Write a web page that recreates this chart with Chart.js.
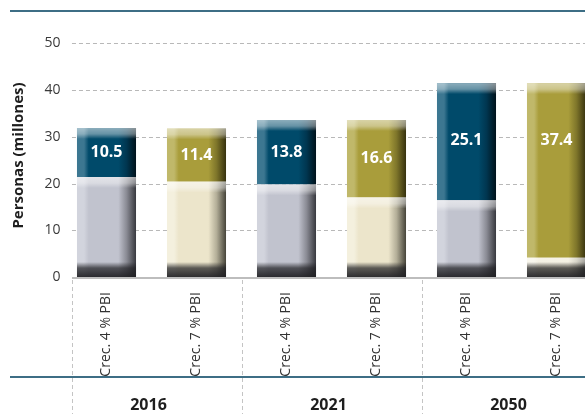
<!DOCTYPE html>
<html lang="es">
<head>
<meta charset="UTF-8">
<title>Personas (millones)</title>
<script src="https://cdn.jsdelivr.net/npm/chart.js"></script>
<style>
    body { margin: 0; background: #fff; }
    #wrap { width: 585px; height: 414px; overflow: hidden; }
    canvas { display: block; }
</style>
</head>
<body>
<div id="wrap"><canvas id="chart" width="610" height="414"></canvas></div>
<script>
    // data
    const years = ['2016', '2021', '2050'];
    const scenarios = ['Crec. 4 % PBI', 'Crec. 7 % PBI'];
    const baseValues = [21.4, 20.4, 19.8, 17.0, 16.4, 4.1];
    const addedValues = [10.5, 11.4, 13.8, 16.6, 25.1, 37.4];
    const yTicks = [0, 10, 20, 30, 40, 50];

    const labels = [];
    years.forEach(y => scenarios.forEach(s => labels.push(s)));

    const BAR_PCT = 0.656;
    const FONT = '"Open Sans", "Noto Sans", sans-serif';

    // one palette per scenario (4% / 7%)
    const topPal = [
        {light: '#3c7791', base: '#004a6a', mid: '#003650', dark: '#00121b'},
        {light: '#c0b86a', base: '#a99d3b', mid: '#7e752a', dark: '#36310e'}
    ];
    const basePal = [
        {light: '#d2d4dd', base: '#c1c3ce', mid: '#8a8b94', dark: '#38393f'},
        {light: '#f4f0de', base: '#ece5cb', mid: '#b3ae98', dark: '#46443a'}
    ];

    function barFill(pals) {
        return function(c) {
            const pal = pals[c.dataIndex % 2];
            const chart = c.chart;
            if (!chart.chartArea) return pal.base;
            const xs = chart.scales.x;
            const cx = xs.getPixelForValue(c.dataIndex);
            const w = xs.width / labels.length * BAR_PCT;
            const g = chart.ctx.createLinearGradient(cx - w / 2, 0, cx + w / 2, 0);
            g.addColorStop(0, pal.light);
            g.addColorStop(0.12, pal.light);
            g.addColorStop(0.2, pal.base);
            g.addColorStop(0.7, pal.base);
            g.addColorStop(0.84, pal.mid);
            g.addColorStop(1, pal.dark);
            return g;
        };
    }

    function gridLeft(chart) {
        const xs = chart.scales.x;
        const w = xs.width / labels.length * BAR_PCT;
        return xs.getPixelForValue(0) - w / 2 - 5;
    }

    const backdrop = {
        id: 'backdrop',
        beforeDatasetsDraw(chart) {
            const c = chart.ctx, ys = chart.scales.y;
            const x0 = gridLeft(chart);
            c.save();
            c.strokeStyle = '#b8b8b8';
            c.lineWidth = 1;
            c.setLineDash([4, 3]);
            yTicks.forEach(v => {
                if (v === 0) return;
                const y = Math.round(ys.getPixelForValue(v)) + 0.5;
                c.beginPath(); c.moveTo(x0, y); c.lineTo(chart.width, y); c.stroke();
            });
            c.setLineDash([]);
            c.strokeStyle = '#bdbdbd';
            c.lineWidth = 2;
            const y0 = ys.getPixelForValue(0) + 1;
            c.beginPath(); c.moveTo(x0, y0); c.lineTo(chart.width, y0); c.stroke();
            c.restore();
        },
        afterDatasetsDraw(chart) {
            const c = chart.ctx;
            c.save();
            chart.data.datasets.forEach((ds, di) => {
                chart.getDatasetMeta(di).data.forEach((el, i) => {
                    const p = el.getProps(['x', 'y', 'base', 'width'], true);
                    const l = p.x - p.width / 2;
                    const top = Math.min(p.y, p.base), bot = Math.max(p.y, p.base);
                    // top bevel highlight
                    let g = c.createLinearGradient(0, top, 0, top + 11);
                    g.addColorStop(0, 'rgba(255,255,255,0.55)');
                    g.addColorStop(0.55, 'rgba(255,255,255,0.4)');
                    g.addColorStop(1, 'rgba(255,255,255,0)');
                    c.fillStyle = g;
                    c.fillRect(l, top, p.width, 11);
                    if (di === 0) {
                        g = c.createLinearGradient(0, bot - 15, 0, bot);
                        g.addColorStop(0, 'rgba(30,30,34,0)');
                        g.addColorStop(0.4, 'rgba(30,30,34,0.7)');
                        g.addColorStop(1, 'rgba(30,30,34,0.92)');
                        c.fillStyle = g;
                        c.fillRect(l, bot - 15, p.width, 15);
                    } else {
                        // value label
                        const yLab = Math.min((top + bot) / 2, top + 57);
                        c.fillStyle = '#ffffff';
                        c.font = 'bold 16px ' + FONT;
                        c.textAlign = 'center';
                        c.textBaseline = 'middle';
                        c.fillText(addedValues[i].toFixed(1), p.x, yLab);
                    }
                });
            });
            c.restore();
        },
        afterDraw(chart) {
            const c = chart.ctx, xs = chart.scales.x, ys = chart.scales.y;
            const y0 = ys.getPixelForValue(0);
            const step = xs.getPixelForValue(1) - xs.getPixelForValue(0);
            c.save();
            // group separators
            const seps = [gridLeft(chart)];
            for (let g = 1; g < years.length; g++) {
                seps.push(xs.getPixelForValue(g * 2) - step / 2);
            }
            c.strokeStyle = '#c4c4c4';
            c.lineWidth = 1;
            c.setLineDash([4, 3]);
            seps.forEach(x => {
                x = Math.round(x) + 0.5;
                c.beginPath(); c.moveTo(x, y0 + 3); c.lineTo(x, chart.height); c.stroke();
            });
            c.setLineDash([]);
            // rules
            c.strokeStyle = '#3d6e85';
            c.lineWidth = 2;
            c.beginPath(); c.moveTo(10, 11); c.lineTo(chart.width, 11); c.stroke();
            c.beginPath(); c.moveTo(10, 377); c.lineTo(chart.width, 377); c.stroke();
            // year labels
            c.fillStyle = '#1e1e1e';
            c.font = 'bold 16px ' + FONT;
            c.textAlign = 'center';
            c.textBaseline = 'middle';
            years.forEach((yr, g) => {
                const x = (xs.getPixelForValue(g * 2) + xs.getPixelForValue(g * 2 + 1)) / 2;
                c.fillText(yr, x - 3, 405);
            });
            c.restore();
        }
    };

    new Chart(document.getElementById('chart'), {
        type: 'bar',
        data: {
            labels: labels,
            datasets: [
                {
                    label: 'base',
                    data: baseValues,
                    backgroundColor: barFill(basePal),
                    borderWidth: 0
                },
                {
                    label: 'incremento',
                    data: addedValues,
                    backgroundColor: barFill(topPal),
                    borderWidth: 0
                }
            ]
        },
        options: {
            responsive: false,
            animation: false,
            devicePixelRatio: 1,
            layout: {padding: {top: 34, right: 8.5, left: 0, bottom: 0}},
            datasets: {bar: {barPercentage: BAR_PCT, categoryPercentage: 1}},
            plugins: {legend: {display: false}, tooltip: {enabled: false}},
            scales: {
                x: {
                    stacked: true,
                    offset: true,
                    grid: {display: false, drawTicks: false},
                    border: {display: false},
                    afterFit: s => { s.height = 137; },
                    ticks: {
                        minRotation: 90,
                        maxRotation: 90,
                        autoSkip: false,
                        padding: 15,
                        color: '#333333',
                        font: {family: FONT, size: 14}
                    }
                },
                y: {
                    stacked: true,
                    min: 0,
                    max: 52,
                    grid: {display: false, drawTicks: false},
                    border: {display: false},
                    afterFit: s => { s.width = 61.5; },
                    afterBuildTicks: s => { s.ticks = yTicks.map(v => ({value: v})); },
                    ticks: {
                        padding: 1,
                        color: '#3a3a3a',
                        font: {family: FONT, size: 14}
                    },
                    title: {
                        display: true,
                        text: 'Personas (millones)',
                        color: '#1e1e1e',
                        padding: {top: 10, bottom: 0},
                        font: {family: FONT, size: 15, weight: 'bold'}
                    }
                }
            }
        },
        plugins: [backdrop]
    });
</script>
</body>
</html>
